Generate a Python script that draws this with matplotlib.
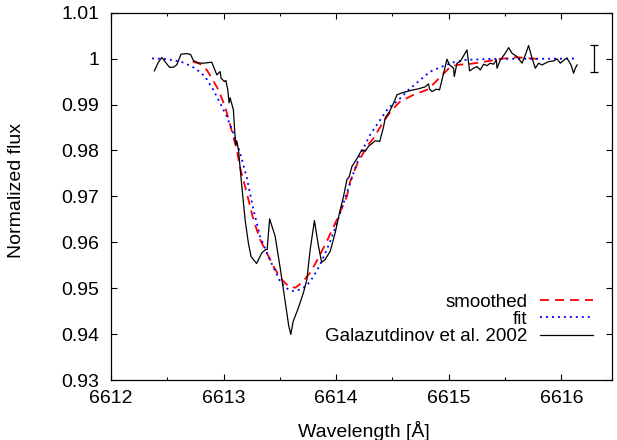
import matplotlib
matplotlib.use("Agg")
import matplotlib.pyplot as plt
from matplotlib.ticker import MultipleLocator, FuncFormatter

plt.rcParams['font.family'] = ['Liberation Sans', 'DejaVu Sans']
plt.rcParams['lines.scale_dashes'] = False

# Observed spectrum (Galazutdinov et al. 2002)
obs_wl = [6612.385, 6612.418, 6612.451, 6612.480, 6612.520, 6612.554, 6612.584, 6612.622,
          6612.673, 6612.707, 6612.732, 6612.776, 6612.820, 6612.895, 6612.940, 6612.969,
          6612.978, 6613.007, 6613.020, 6613.037, 6613.049, 6613.058, 6613.087, 6613.102,
          6613.108, 6613.116, 6613.132, 6613.162, 6613.191, 6613.220, 6613.244, 6613.293,
          6613.340, 6613.373, 6613.387, 6613.409, 6613.458, 6613.502, 6613.547, 6613.578,
          6613.597, 6613.618, 6613.665, 6613.709, 6613.740, 6613.769, 6613.807, 6613.843,
          6613.871, 6613.902, 6613.947, 6613.991, 6614.036, 6614.065, 6614.095, 6614.116,
          6614.140, 6614.184, 6614.228, 6614.258, 6614.287, 6614.347, 6614.387, 6614.421,
          6614.436, 6614.474, 6614.510, 6614.540, 6614.584, 6614.658, 6614.729, 6614.791,
          6614.820, 6614.829, 6614.851, 6614.889, 6614.918, 6614.940, 6614.984, 6615.007,
          6615.043, 6615.049, 6615.073, 6615.102, 6615.162, 6615.185, 6615.220, 6615.251,
          6615.280, 6615.309, 6615.340, 6615.369, 6615.398, 6615.422, 6615.429, 6615.458,
          6615.502, 6615.532, 6615.562, 6615.606, 6615.651, 6615.680, 6615.709, 6615.740,
          6615.769, 6615.798, 6615.828, 6615.858, 6615.887, 6615.932, 6615.962, 6615.991,
          6616.036, 6616.051, 6616.086, 6616.109, 6616.124, 6616.140]
obs_flux = [0.99733, 0.99907, 1.00026, 0.99935, 0.99809, 0.99813, 0.99863, 1.00096,
            1.00109, 1.00091, 0.99957, 0.99907, 0.99900, 0.99922, 0.99646, 0.99717,
            0.99574, 0.99500, 0.99526, 0.99320, 0.99037, 0.99146, 0.98885, 0.98298,
            0.98124, 0.98211, 0.98015, 0.97217, 0.96493, 0.95987, 0.95689, 0.95537,
            0.95770, 0.95841, 0.95841, 0.96509, 0.96130, 0.95450, 0.94711, 0.94189,
            0.93993, 0.94276, 0.94574, 0.94900, 0.95189, 0.95841, 0.96472, 0.95913,
            0.95565, 0.95624, 0.95804, 0.96204, 0.96711, 0.96993, 0.97363, 0.97428,
            0.97652, 0.97820, 0.98015, 0.97983, 0.98087, 0.98211, 0.98196, 0.98515,
            0.98711, 0.98848, 0.99030, 0.99211, 0.99254, 0.99304, 0.99341, 0.99385,
            0.99450, 0.99341, 0.99283, 0.99335, 0.99320, 0.99537, 0.99987, 0.99863,
            0.99791, 0.99609, 0.99900, 0.99935, 1.00189, 0.99733, 0.99791, 0.99826,
            0.99754, 0.99878, 0.99848, 0.99900, 0.99878, 0.99972, 0.99791, 0.99972,
            1.00117, 1.00239, 1.00117, 1.00043, 0.99900, 1.00080, 1.00283, 1.00009,
            0.99791, 0.99900, 0.99863, 0.99900, 0.99935, 0.99950, 0.99993, 0.99900,
            0.99993, 1.00009, 0.99863, 0.99683, 0.99791, 0.99863]

# Smoothed spectrum
smooth_wl = [6612.726, 6612.791, 6612.851, 6612.895, 6612.954, 6613.013, 6613.058, 6613.117,
             6613.147, 6613.206, 6613.265, 6613.324, 6613.384, 6613.443, 6613.502, 6613.576,
             6613.636, 6613.695, 6613.769, 6613.843, 6613.917, 6614.006, 6614.095, 6614.124,
             6614.184, 6614.273, 6614.332, 6614.421, 6614.495, 6614.569, 6614.687, 6614.806,
             6614.865, 6614.954, 6615.013, 6615.073, 6615.191, 6615.309, 6615.458, 6615.606,
             6615.784]
smooth_flux = [0.99935, 0.99885, 0.99754, 0.99574, 0.99320, 0.98957, 0.98559, 0.98015,
               0.97624, 0.97074, 0.96493, 0.96059, 0.95770, 0.95478, 0.95226, 0.95043,
               0.95009, 0.95117, 0.95335, 0.95661, 0.96022, 0.96493, 0.97000, 0.97320,
               0.97689, 0.98087, 0.98270, 0.98630, 0.98885, 0.99065, 0.99211, 0.99320,
               0.99450, 0.99670, 0.99820, 0.99863, 0.99885, 0.99928, 0.99993, 1.00030,
               0.99993]

# Fitted profile
fit_wl = [6612.364, 6612.480, 6612.569, 6612.643, 6612.747, 6612.836, 6612.909, 6612.969,
          6613.028, 6613.087, 6613.147, 6613.206, 6613.265, 6613.324, 6613.384, 6613.443,
          6613.502, 6613.562, 6613.621, 6613.680, 6613.740, 6613.799, 6613.858, 6613.917,
          6613.976, 6614.036, 6614.095, 6614.154, 6614.213, 6614.302, 6614.391, 6614.465,
          6614.540, 6614.643, 6614.747, 6614.836, 6614.954, 6615.040, 6615.147, 6615.369,
          6616.129]
fit_flux = [1.00004, 0.99993, 0.99957, 0.99913, 0.99791, 0.99609, 0.99320, 0.99030,
            0.98739, 0.98378, 0.97943, 0.97407, 0.96711, 0.96130, 0.95770, 0.95450,
            0.95146, 0.94993, 0.94935, 0.94972, 0.95059, 0.95254, 0.95515, 0.95841,
            0.96204, 0.96639, 0.97074, 0.97509, 0.97907, 0.98341, 0.98667, 0.98930,
            0.99065, 0.99320, 0.99537, 0.99717, 0.99841, 0.99917, 0.99972, 0.99993,
            1.00000]

# Typical error bar
err_wl = 6616.29
err_flux = 1.0
err_size = 0.003

fig = plt.figure(figsize=(6.17, 4.40), dpi=100)
ax = fig.add_axes([111 / 617, 1 - 380 / 440, 501 / 617, 367.3 / 440])

ax.plot(smooth_wl, smooth_flux, color='#ff0000', lw=1.3, dashes=(6.5, 4.3), label='smoothed')
ax.plot(fit_wl, fit_flux, color='#0000ff', lw=1.3, dashes=(1.4, 2.9), label='fit')
ax.plot(obs_wl, obs_flux, color='black', lw=0.9, label='Galazutdinov et al. 2002')
ax.errorbar(err_wl, err_flux, yerr=err_size, color='black', lw=0.9, capsize=3, capthick=0.9)

ax.set_xlim(6612, 6616.45)
ax.set_ylim(0.93, 1.01)
ax.xaxis.set_major_locator(MultipleLocator(1))
ax.xaxis.set_minor_locator(MultipleLocator(0.5))
ax.yaxis.set_major_locator(MultipleLocator(0.01))
ax.yaxis.set_major_formatter(FuncFormatter(lambda v, p: f"{round(v, 2):g}"))
ax.tick_params(which='both', direction='in', top=True, right=True, labelsize=14, width=0.8)
ax.tick_params(which='major', length=4.5)
ax.tick_params(which='minor', length=2.5)
ax.tick_params(axis='y', pad=8.5)
ax.tick_params(axis='x', pad=7.5)
for s in ax.spines.values():
    s.set_linewidth(0.9)

fig.text(17 / 617, 1 - 191 / 440, 'Normalized flux', rotation=90, ha='center', va='center', fontsize=14)
fig.text(364 / 617, 1 - 437 / 440, 'Wavelength [Å]', ha='center', va='baseline', fontsize=14)

ax.legend(loc='lower right', bbox_to_anchor=(0.962, 0.095), frameon=False, fontsize=13.5,
          markerfirst=False, handlelength=2.8, handletextpad=0.7, labelspacing=0,
          borderpad=0, borderaxespad=0)

fig.savefig('out.png', dpi=100)
